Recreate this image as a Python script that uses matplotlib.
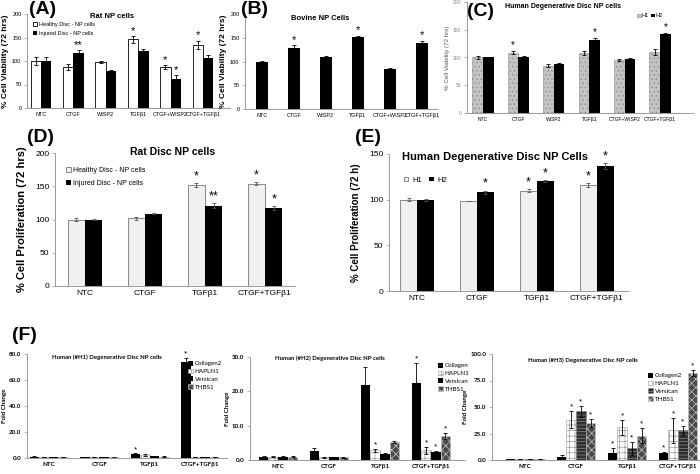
import matplotlib.pyplot as plt
import numpy as np

plt.rcParams["font.family"] = ["Liberation Sans", "DejaVu Sans"]
plt.rcParams["hatch.linewidth"] = 0.5

# ---------------------------
# Data
# ---------------------------
six_groups = ["NTC", "CTGF", "WISP2", "TGFβ1", "CTGF+WISP2", "CTGF+TGFβ1"]
four_groups = ["NTC", "CTGF", "TGFβ1", "CTGF+TGFβ1"]

# (A) Rat NP cells - viability
a_healthy = [100, 87, 98, 146, 87, 134]
a_healthy_err = [8, 6, 2, 7, 4, 9]
a_healthy_star = ["", "", "", "*", "*", "*"]
a_injured = [100, 117, 79, 121, 62, 106]
a_injured_err = [8, 6, 1, 5, 8, 6]
a_injured_star = ["", "**", "", "", "*", ""]

# (B) Bovine NP cells - viability
b_values = [100, 129, 110, 151, 84, 138]
b_err = [1, 5, 2, 3, 3, 6]
b_star = ["", "*", "", "*", "", "*"]

# (C) Human degenerative disc NP cells - viability
c_h1 = [100, 109, 85, 108, 95, 110]
c_h1_err = [2, 3, 3, 4, 2, 5]
c_h1_star = ["", "*", "", "", "", ""]
c_h2 = [100, 101, 89, 132, 98, 142]
c_h2_err = [1, 1, 1, 4, 1, 2]
c_h2_star = ["", "", "", "*", "", "*"]

# (D) Rat disc NP cells - proliferation
d_healthy = [100, 102, 152, 154]
d_healthy_err = [3, 2, 3, 2]
d_healthy_star = ["", "", "*", "*"]
d_injured = [100, 109, 121, 117]
d_injured_err = [1, 1, 4, 3]
d_injured_star = ["", "", "**", "*"]

# (E) Human degenerative disc NP cells - proliferation
e_h1 = [100, 98, 110, 116]
e_h1_err = [2, 0, 2, 2]
e_h1_star = ["", "", "*", "*"]
e_h2 = [100, 108, 120, 137]
e_h2_err = [1, 2, 1, 3]
e_h2_star = ["", "*", "*", "*"]

# (F) fold change, three donors
f1_collagen = [1.0, 0.7, 3.0, 74.0]
f1_collagen_err = [0.2, 0.1, 0.5, 3.0]
f1_hapln1 = [1.0, 0.6, 2.0, 0.8]
f1_hapln1_err = [0.1, 0.1, 0.8, 0.1]
f1_versican = [1.0, 0.6, 1.2, 0.8]
f1_versican_err = [0.1, 0.1, 0.2, 0.1]
f1_thbs1 = [1.0, 0.4, 1.0, 0.8]
f1_thbs1_err = [0.1, 0.1, 0.2, 0.1]
f1_stars = [["", "", "*", "*"], ["", "", "", ""], ["", "", "", ""], ["", "", "", ""]]

f2_collagen = [1.0, 2.6, 21.7, 22.3]
f2_collagen_err = [0.1, 0.8, 5.5, 6.0]
f2_hapln1 = [1.0, 0.8, 2.8, 2.8]
f2_hapln1_err = [0.1, 0.1, 0.5, 1.0]
f2_versican = [1.0, 0.8, 1.8, 2.3]
f2_versican_err = [0.1, 0.1, 0.3, 0.3]
f2_thbs1 = [1.0, 0.8, 5.2, 7.0]
f2_thbs1_err = [0.1, 0.2, 0.3, 0.9]
f2_stars = [["", "", "", "*"], ["", "", "*", "*"], ["", "", "", "*"], ["", "", "", "*"]]

f3_collagen = [1.0, 3.0, 7.0, 6.5]
f3_collagen_err = [0.1, 2.0, 4.5, 1.0]
f3_hapln1 = [1.0, 38, 31, 28]
f3_hapln1_err = [0.1, 8, 7, 12]
f3_versican = [1.0, 46, 11, 28]
f3_versican_err = [0.1, 5, 6, 4]
f3_thbs1 = [1.0, 35, 23, 82]
f3_thbs1_err = [0.1, 4, 7, 3]
f3_stars = [["", "", "*", "*"], ["", "*", "*", "*"], ["", "*", "*", "*"], ["", "*", "*", "*"]]

W, H = 700, 474
fig = plt.figure(figsize=(7.0, 4.74), dpi=100)


def axes_px(left, top, right, bottom):
    """Add axes given pixel edges of the plot area."""
    return fig.add_axes([left / W, 1 - bottom / H, (right - left) / W, (bottom - top) / H])


def text_px(x, y, s, **kw):
    """Figure text placed by pixel position (from the top-left corner)."""
    kw.setdefault("ha", "center")
    kw.setdefault("va", "center")
    return fig.text(x / W, 1 - y / H, s, **kw)


def style(ax, ylim, yticks, fmt, fs, xlim, labels):
    ax.set_ylim(*ylim)
    ax.set_xlim(*xlim)
    ax.set_yticks(yticks)
    ax.set_yticklabels([fmt.format(t) for t in yticks], fontsize=fs)
    ax.set_xticks(range(len(labels)))
    ax.set_xticklabels(labels, fontsize=fs)
    for s in ["top", "right"]:
        ax.spines[s].set_visible(False)
    for s in ["left", "bottom"]:
        ax.spines[s].set_color("#999999")
        ax.spines[s].set_linewidth(0.7)
    ax.tick_params(axis="y", length=2, width=0.5, color="#999999", pad=2)
    ax.tick_params(axis="x", length=0, pad=3)


def bars(ax, x, vals, errs, stars, width, star_fs, ecolor="black", **kw):
    ax.bar(x, vals, width, yerr=errs, capsize=1.2,
           error_kw=dict(ecolor=ecolor, elinewidth=0.6, capthick=0.6), **kw)
    span = ax.get_ylim()[1] - ax.get_ylim()[0]
    for xi, v, e, s in zip(x, vals, errs, stars):
        if s:
            ax.text(xi, v + e + span * 0.005, s, ha="center", va="bottom",
                    fontsize=star_fs, color="black")


def legend_px(ax, x, y, **kw):
    return ax.legend(loc="upper left", bbox_to_anchor=(x / W, 1 - y / H),
                     bbox_transform=fig.transFigure, frameon=False, borderpad=0.1, **kw)


# ---------------------------
# (A)
# ---------------------------
ax = axes_px(27, 14, 230, 108)
style(ax, (0, 200), [0, 50, 100, 150, 200], "{:d}", 4, (-0.43, 5.83), six_groups)
x = np.arange(len(six_groups))
bw = 0.32
bars(ax, x - bw / 2, a_healthy, a_healthy_err, a_healthy_star, bw, 8,
     color="white", edgecolor="black", linewidth=0.6, label="Healthy Disc - NP cells")
bars(ax, x + bw / 2, a_injured, a_injured_err, a_injured_star, bw, 8,
     color="black", label="Injured Disc - NP cells")
ax.set_ylabel("% Cell Viability (72 hrs)", fontsize=6, fontweight="bold", labelpad=2)
text_px(112, 17, "Rat NP cells", fontsize=5.5, fontweight="bold")
legend_px(ax, 30, 19, fontsize=4, handlelength=0.7, handleheight=0.7,
          handletextpad=0.3, labelspacing=0.6)

# ---------------------------
# (B)
# ---------------------------
ax = axes_px(245, 14, 437, 109)
style(ax, (0, 200), [0, 50, 100, 150, 200], "{:d}", 4, (-0.53, 5.47), six_groups)
bars(ax, x, b_values, b_err, b_star, 0.4, 8, color="black")
ax.set_ylabel("% Cell Viability (72 hrs)", fontsize=6, fontweight="bold", labelpad=2)
text_px(320, 18, "Bovine NP Cells", fontsize=5.5, fontweight="bold")

# ---------------------------
# (C)
# ---------------------------
ax = axes_px(467, 2, 693, 113)
style(ax, (0, 200), [0, 50, 100, 150, 200], "{:d}", 3.6, (-0.45, 5.93), six_groups)
ax.tick_params(axis="y", labelcolor="#888888")
bw = 0.3
bars(ax, x - bw / 2, c_h1, c_h1_err, c_h1_star, bw, 7,
     color="#c4c4c4", edgecolor="#8a8a8a", hatch="....", linewidth=0.4, label="H1")
bars(ax, x + bw / 2, c_h2, c_h2_err, c_h2_star, bw, 7, color="black", label="H2")
ax.set_ylabel("% Cell Viability (72 hrs)", fontsize=4.5, color="#555555", labelpad=2)
text_px(563, 6, "Human Degenerative Disc NP cells", fontsize=5, fontweight="bold")
legend_px(ax, 634, 10, fontsize=4, ncol=2, handlelength=0.6, handleheight=0.6,
          handletextpad=0.2, columnspacing=0.4)

# ---------------------------
# (D)
# ---------------------------
ax = axes_px(55, 153, 295, 286)
x4 = np.arange(len(four_groups))
style(ax, (0, 200), [0, 50, 100, 150, 200], "{:d}", 6, (-0.5, 3.5), four_groups)
bw = 0.29
bars(ax, x4 - bw / 2, d_healthy, d_healthy_err, d_healthy_star, bw, 9, ecolor="#555555",
     color="#f0f0f0", edgecolor="#777777", linewidth=0.6, label="Healthy Disc - NP cells")
bars(ax, x4 + bw / 2, d_injured, d_injured_err, d_injured_star, bw, 9, ecolor="#555555",
     color="black", label="Injured Disc - NP cells")
ax.set_ylabel("% Cell Proliferation (72 hrs)", fontsize=8, fontweight="bold", labelpad=6)
text_px(173, 152, "Rat Disc NP cells", fontsize=7.5, fontweight="bold")
legend_px(ax, 62, 163, fontsize=5, handlelength=0.7, handleheight=0.7,
          handletextpad=0.3, labelspacing=0.8)

# ---------------------------
# (E)
# ---------------------------
ax = axes_px(389, 154, 628, 291)
style(ax, (0, 150), [0, 50, 100, 150], "{:d}", 6, (-0.47, 3.52), four_groups)
bw = 0.28
bars(ax, x4 - bw / 2, e_h1, e_h1_err, e_h1_star, bw, 9, ecolor="#555555",
     color="#f0f0f0", edgecolor="#777777", linewidth=0.6, label="H1")
bars(ax, x4 + bw / 2, e_h2, e_h2_err, e_h2_star, bw, 9, ecolor="#555555",
     color="black", label="H2")
ax.set_ylabel("% Cell Proliferation (72 h)", fontsize=7, fontweight="bold", labelpad=6)
text_px(495, 157, "Human Degenerative Disc NP Cells", fontsize=8, fontweight="bold")
legend_px(ax, 399, 172, fontsize=5.5, ncol=2, handlelength=0.6, handleheight=0.6,
          handletextpad=0.5, columnspacing=1.0)

# ---------------------------
# (F) fold change panels
# ---------------------------
series_names = ["HAPLN1", "Versican", "THBS1"]
hapln_style = dict(color="white", edgecolor="#9a9a9a", hatch="+++", linewidth=0.4)
thbs_style = dict(color="#4a4a4a", edgecolor="#c8c8c8", hatch="xxxx", linewidth=0.4)
calibri_like = ["Lato", "DejaVu Sans"]


def fold_panel(box, ylim, yticks, xlim, title, title_xy, collagen_name, data, stars,
               vers_style, leg_xy):
    ax = axes_px(*box)
    style(ax, ylim, yticks, "{:.1f}", 4.5, xlim, four_groups)
    for t in ax.get_xticklabels() + ax.get_yticklabels():
        t.set_fontfamily(calibri_like)
        t.set_fontweight("bold")
    bw = 0.19
    offs = (np.arange(4) - 1.5) * bw
    styles = [dict(color="black"), hapln_style, vers_style, thbs_style]
    names = [collagen_name] + series_names
    for k in range(4):
        vals, errs = data[k]
        bars(ax, x4 + offs[k], vals, errs, stars[k], bw, 6, label=names[k], **styles[k])
    ax.set_ylabel("Fold Change", fontsize=4.5, fontweight="bold", labelpad=1.5,
                  fontfamily=calibri_like)
    text_px(title_xy[0], title_xy[1], title, fontsize=4.3, fontweight="bold",
            fontfamily=calibri_like)
    legend_px(ax, leg_xy[0], leg_xy[1], prop=dict(family=calibri_like, size=4.5),
              handlelength=0.8, handleheight=0.8, handletextpad=0.3, labelspacing=0.35)
    return ax


fold_panel((27, 354, 227, 458), (0, 80), [0, 20, 40, 60, 80], (-0.43, 3.53),
           "Human (#H1) Degenerative Disc NP cells", (107, 357), "Collagen2",
           [(f1_collagen, f1_collagen_err), (f1_hapln1, f1_hapln1_err),
            (f1_versican, f1_versican_err), (f1_thbs1, f1_thbs1_err)],
           f1_stars, dict(color="black"), (184, 357))

fold_panel((250, 357, 465, 460), (0, 30), [0, 10, 20, 30], (-0.55, 3.67),
           "Human (#H2) Degenerative Disc NP cells", (330, 358), "Collagen",
           [(f2_collagen, f2_collagen_err), (f2_hapln1, f2_hapln1_err),
            (f2_versican, f2_versican_err), (f2_thbs1, f2_thbs1_err)],
           f2_stars, dict(color="black"), (434, 359))

fold_panel((492, 354, 700, 460), (0, 100), [0, 25, 50, 75, 100], (-0.65, 3.43),
           "Human (#H3) Degenerative Disc NP cells", (583, 360), "Collagen2",
           [(f3_collagen, f3_collagen_err), (f3_hapln1, f3_hapln1_err),
            (f3_versican, f3_versican_err), (f3_thbs1, f3_thbs1_err)],
           f3_stars, dict(color="#2e2e2e", edgecolor="#8a8a8a", hatch="-----", linewidth=0.4),
           (644, 369))

for label, px, py in [("(A)", 43, 10), ("(B)", 254, 10), ("(C)", 481, 11),
                      ("(D)", 40, 138), ("(E)", 368, 137), ("(F)", 24, 336)]:
    text_px(px, py, label, fontsize=14, fontweight="bold")

fig.savefig("out.png", dpi=100)
